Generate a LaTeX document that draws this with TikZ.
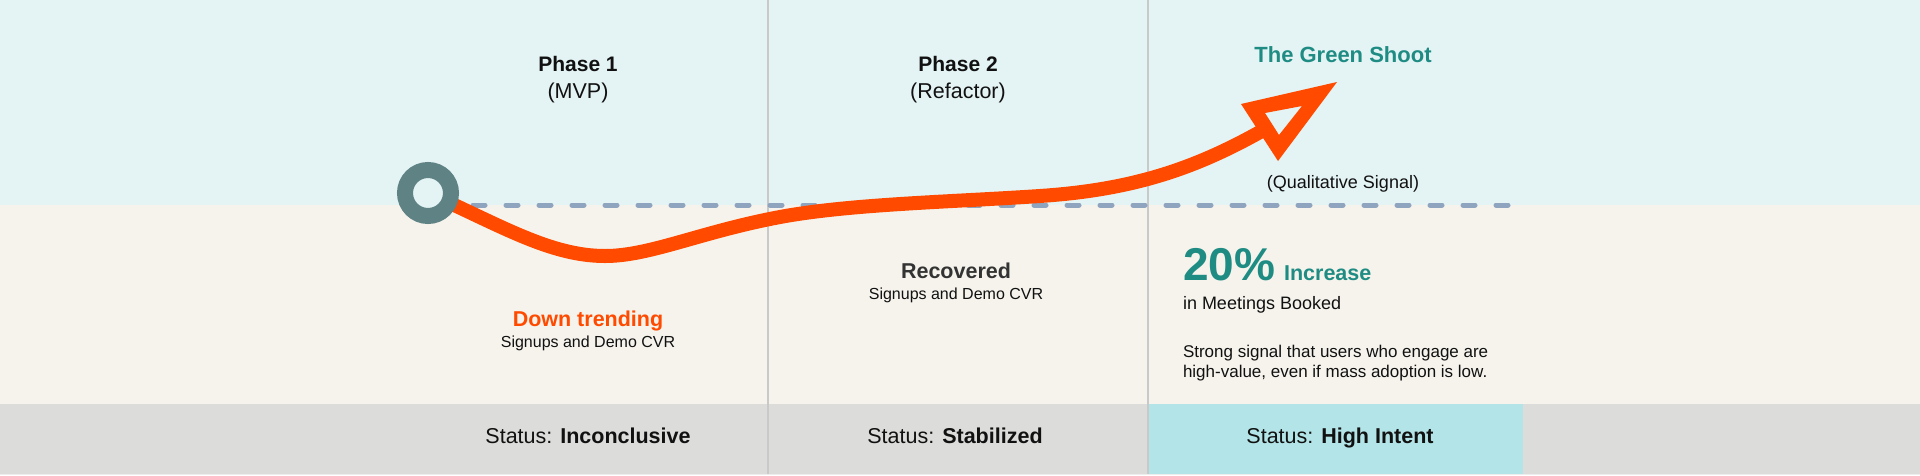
\documentclass[tikz,border=0pt]{standalone}
\usepackage{fontspec}
\setmainfont{Liberation Sans}
\definecolor{topbg}{HTML}{E4F3F4}
\definecolor{midbg}{HTML}{F5F3EC}
\definecolor{botbg}{HTML}{DCDCDA}
\definecolor{hibg}{HTML}{B3E5E8}
\definecolor{divc}{HTML}{C9C9C9}
\definecolor{orng}{HTML}{FF4A00}
\definecolor{teal}{HTML}{1F8C84}
\definecolor{ring}{HTML}{5F8285}
\definecolor{dashc}{HTML}{8EA4BF}
\definecolor{txt}{HTML}{111111}
\definecolor{dtxt}{HTML}{333333}
\newcommand\fsz[2]{\fontsize{#1pt}{#2pt}\selectfont}
\begin{document}
\begin{tikzpicture}[x=1pt,y=-1pt,
  lbl/.style={inner sep=0pt,outer sep=0pt,anchor=base,text=txt},
  lblw/.style={inner sep=0pt,outer sep=0pt,anchor=base west,text=txt},
  divider/.style={draw=divc,line width=1.2pt},
  curve/.style={draw=orng,line width=14pt,line cap=butt},
  baseline/.style={draw=dashc,line width=5pt,line cap=round,dash pattern=on 12pt off 21pt}]
\useasboundingbox (0,0) rectangle (1920,475);
% bands
\fill[topbg] (0,0) rectangle (1920,205);
\fill[midbg] (0,205) rectangle (1920,404);
\fill[botbg] (0,404) rectangle (1920,474);
\fill[black!7] (0,474) rectangle (1920,475);
\fill[hibg] (1148,404) rectangle (1523,474);
% dividers
\draw[divider] (768,0) -- (768,474);
\draw[divider] (1148,0) -- (1148,474);
% dashed baseline
\coordinate (d0) at (473,205);
\coordinate (d1) at (1508,205);
\draw[baseline] (d0) -- (d1);
% curve
\coordinate (p0) at (428,193);
\coordinate (pend) at (1260,132);
\draw[curve] (p0) .. controls (500,225) and (550,256) .. (605,256)
  .. controls (650,256) and (700,232) .. (780,217)
  .. controls (850,204) and (950,202) .. (1040,196)
  .. controls (1130,190) and (1192,170) .. (pend);
% arrow head (open triangle)
\fill[orng,even odd rule] (1337,82) -- (1241,104) -- (1278,161) -- cycle
  (1265,113) -- (1302,106) -- (1279,135) -- cycle;
% start ring
\node[circle,minimum size=46pt,inner sep=0pt,draw=ring,line width=16pt,fill=topbg] (start) at (p0) {};
% headers
\node[lbl] (ph1) at (578,71) {\fsz{21}{25}\bfseries Phase 1};
\node[lbl] (ph1s) at (578,98) {\fsz{21.5}{25}(MVP)};
\node[lbl] (ph2) at (958,71) {\fsz{21}{25}\bfseries Phase 2};
\node[lbl] (ph2s) at (958,98) {\fsz{21.5}{25}(Refactor)};
\node[lbl,text=teal] (gs) at (1343,62) {\fsz{22}{26}\bfseries The Green Shoot};
\node[lbl] (qs) at (1343,188) {\fsz{18}{22}(Qualitative Signal)};
% column 1
\node[lbl,text=orng] (dt) at (588,326) {\fsz{21.5}{25}\bfseries Down trending};
\node[lbl] (dts) at (588,347) {\fsz{16}{19}Signups and Demo CVR};
% column 2
\node[lbl,text=dtxt] (rc) at (956,278) {\fsz{21.5}{25}\bfseries Recovered};
\node[lbl] (rcs) at (956,299) {\fsz{16}{19}Signups and Demo CVR};
% column 3
\node[lblw,text=teal] (pct) at (1183,280) {\fsz{46}{52}\bfseries 20\%};
\node[lblw,text=teal,xshift=9pt] (inc) at (pct.base east) {\fsz{21.5}{25}\bfseries Increase};
\node[lblw] (mb) at (1183,309) {\fsz{18}{22}in Meetings Booked};
\node[lblw] (sg1) at (1183,357) {\fsz{17}{20}Strong signal that users who engage are};
\node[lblw] (sg2) at (1183,377) {\fsz{17}{20}high-value, even if mass adoption is low.};
% status row
\node[lbl] (st1) at (588,443) {\fsz{21.5}{25}Status: \textbf{Inconclusive}};
\node[lbl] (st2) at (955,443) {\fsz{21.5}{25}Status: \textbf{Stabilized}};
\node[lbl] (st3) at (1340,443) {\fsz{21.5}{25}Status: \textbf{High Intent}};
\end{tikzpicture}
\end{document}
